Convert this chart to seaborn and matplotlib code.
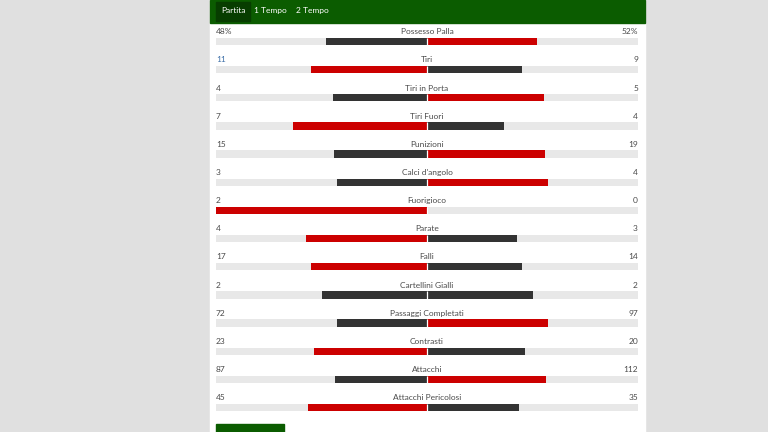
import matplotlib
matplotlib.use("Agg")
import matplotlib.pyplot as plt
from matplotlib.patches import Rectangle
import seaborn as sns
import pandas as pd

stats = ["Possesso Palla", "Tiri", "Tiri in Porta", "Tiri Fuori", "Punizioni",
         "Calci d'angolo", "Fuorigioco", "Parate", "Falli", "Cartellini Gialli",
         "Passaggi Completati", "Contrasti", "Attacchi", "Attacchi Pericolosi"]
home = [48, 11, 4, 7, 15, 3, 2, 4, 17, 2, 72, 23, 87, 45]
away = [52, 9, 5, 4, 19, 4, 0, 3, 14, 2, 97, 20, 112, 35]
home_labels = ["48%"] + [str(v) for v in home[1:]]
away_labels = ["52%"] + [str(v) for v in away[1:]]
tabs = ["Partita", "1 Tempo", "2 Tempo"]

RED = "#cc0000"
DARK = "#333333"
TRACK = "#e8e8e8"
GREEN = "#0b5c00"
TAB_DARK = "#073d00"
TXT = "#4a4a4a"

W, H = 768, 432
sns.set_theme(style="white")
plt.rcParams["font.family"] = ["Lato", "DejaVu Sans"]

left_rows, right_rows = [], []
for s, h, a in zip(stats, home, away):
    tot = h + a
    hs = h / tot if tot else 0
    as_ = a / tot if tot else 0
    left_rows.append({"stat": s, "share": -hs, "lead": "red" if h > a else "dark"})
    right_rows.append({"stat": s, "share": as_, "lead": "red" if a > h else "dark"})
left_df = pd.DataFrame(left_rows)
right_df = pd.DataFrame(right_rows)
track_l = pd.DataFrame({"stat": stats, "share": [-1.0] * len(stats)})
track_r = pd.DataFrame({"stat": stats, "share": [1.0] * len(stats)})

fig = plt.figure(figsize=(W / 100, H / 100), dpi=100, facecolor="#e0e0e0")

def px(x0, y0, x1, y1, **kw):
    fig.add_artist(Rectangle((x0 / W, 1 - y1 / H), (x1 - x0) / W, (y1 - y0) / H,
                             transform=fig.transFigure, **kw))

px(210, 0, 645, H, color="white", zorder=-2)
px(210, 0, 645, 22.5, color=GREEN, zorder=-1)
px(216, 2, 250, 20.5, color=TAB_DARK, zorder=-1)
px(216, 423.5, 284, H, color=GREEN, zorder=-1)
for t, x in zip(tabs, [233, 270, 312]):
    fig.text(x / W, 1 - 10.5 / H, t, color="white", fontsize=6.0, ha="center", va="center")

x0, x1 = 216, 638
ax = fig.add_axes([x0 / W, 0, (x1 - x0) / W, 1])
ax.patch.set_visible(False)

BW = 0.26
pal = {"red": RED, "dark": DARK}
common = dict(x="share", y="stat", order=stats, width=BW, orient="h", ax=ax,
              errorbar=None, saturation=1, linewidth=0)
sns.barplot(data=track_l, color=TRACK, **common)
sns.barplot(data=track_r, color=TRACK, **common)
sns.barplot(data=left_df, hue="lead", palette=pal, dodge=False, legend=False, **common)
sns.barplot(data=right_df, hue="lead", palette=pal, dodge=False, legend=False, **common)
idx = list(range(len(stats)))
ax.vlines([0] * len(idx), [i - BW / 2 for i in idx], [i + BW / 2 for i in idx],
          color="white", lw=0.9, zorder=5)

spacing = (407.5 - 41.5) / (len(stats) - 1)
top = -41.5 / spacing
bottom = (len(stats) - 1) + (H - 407.5) / spacing
ax.set_xlim(-1, 1)
ax.set_ylim(bottom, top)
ax.set_xlabel("")
ax.set_ylabel("")
ax.set_xticks([])
ax.set_yticks([])
for sp in ax.spines.values():
    sp.set_visible(False)

off = 9.8 / spacing
for i, s in enumerate(stats):
    y = i - off
    lc = "#3d6fa8" if s == "Tiri" else TXT
    ax.text(-1, y, home_labels[i], ha="left", va="center", fontsize=6.0, color=lc)
    ax.text(1, y, away_labels[i], ha="right", va="center", fontsize=6.0, color=TXT)
    ax.text(0, y, s, ha="center", va="center", fontsize=6.0, color=TXT)

fig.savefig("out.png", dpi=100, facecolor=fig.get_facecolor())
